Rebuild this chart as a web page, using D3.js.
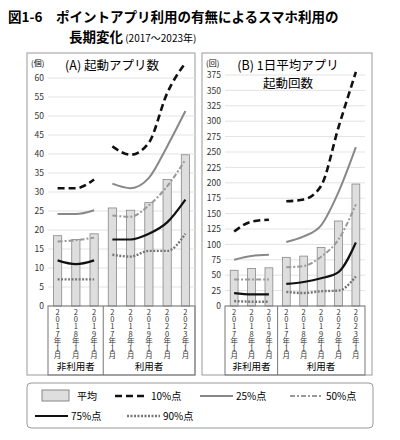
<!DOCTYPE html>
<html><head><meta charset="utf-8">
<script src="https://cdn.jsdelivr.net/npm/d3@7"></script>
<style>body{margin:0;background:#fff;font-family:"Noto Sans CJK JP",sans-serif;}</style>
</head><body><div id="root"></div>
<script>
const periods = ['2017年1月', '2018年1月', '2019年1月', '2017年1月', '2018年1月', '2019年1月', '2020年1月', '2023年1月'];
const groups = [{name: '非利用者', from: 0, to: 2}, {name: '利用者', from: 3, to: 7}];

const meanA = [18.5, 17.5, 19, 25.8, 25.2, 27.2, 33.3, 39.8];
const p10A = [31, 31, 33.3, 42, 39.8, 43, 56, 64];
const p25A = [24.2, 24.2, 25.2, 32.2, 31, 33.7, 42, 51.3];
const p50A = [17, 17.3, 18, 23.8, 23.5, 26.5, 31.5, 38.5];
const p75A = [12, 11, 12, 17.5, 17.5, 19, 22, 28];
const p90A = [7, 7, 7, 13.5, 13, 14.5, 14.5, 19];

const meanB = [58, 61, 62, 79, 81, 95, 138, 198];
const p10B = [121, 137, 140, 170, 173, 195, 290, 380];
const p25B = [75, 81, 83, 104, 113, 131, 185, 258];
const p50B = [43, 43, 43, 63, 65, 80, 108, 165];
const p75B = [21, 19, 19, 36, 39, 45, 55, 103];
const p90B = [8, 7, 7, 23, 21, 24, 25, 48];

const ticksA = d3.range(0, 61, 5);
const ticksB = d3.range(0, 376, 25);

const styles = {
  p10: {stroke: '#111', width: 2.6, dash: '7,4'},
  p25: {stroke: '#888', width: 2, dash: null},
  p50: {stroke: '#999', width: 2, dash: '5,2,2,2'},
  p75: {stroke: '#111', width: 2.2, dash: null},
  p90: {stroke: '#777', width: 2.4, dash: '2,1.5'}
};

const svg = d3.select('#root').append('svg').attr('width', 400).attr('height', 440);

svg.append('text').attr('x', 8).attr('y', 22).attr('font-size', 13.5).attr('font-weight', 'bold')
  .text('図1-6　ポイントアプリ利用の有無によるスマホ利用の');
const t2 = svg.append('text').attr('x', 69).attr('y', 42).attr('font-size', 13.5).attr('font-weight', 'bold');
t2.append('tspan').text('長期変化');
t2.append('tspan').attr('font-size', 10).attr('font-weight', 'normal').text(' (2017～2023年)');

function panel(opt) {
  const g = svg.append('g');
  g.append('rect').attr('x', opt.box[0]).attr('y', 53).attr('width', opt.box[1] - opt.box[0]).attr('height', 322)
    .attr('fill', 'none').attr('stroke', '#999');
  const x = d3.scaleBand().domain(d3.range(8)).range([opt.plot[0], opt.plot[1]]).paddingInner(0.55).paddingOuter(0.3);
  const y = d3.scaleLinear().domain([0, opt.max]).range([306, opt.top]);

  g.selectAll('.grid').data(opt.ticks).enter().append('line')
    .attr('x1', opt.plot[0]).attr('x2', opt.plot[1]).attr('y1', d => y(d)).attr('y2', d => y(d))
    .attr('stroke', '#e3e3e3');
  const ax = g.append('g').attr('transform', `translate(${opt.plot[0]},0)`)
    .call(d3.axisLeft(y).tickValues(opt.ticks).tickSize(0).tickPadding(4));
  ax.select('.domain').remove();
  ax.selectAll('text').attr('font-size', 8.5).attr('fill', '#333').attr('font-family', '"Noto Sans CJK JP"');
  g.append('text').attr('x', opt.box[0] + 4).attr('y', 66).attr('font-size', 8).text(opt.unit);
  opt.title.forEach((t, i) => g.append('text').attr('x', opt.titleX).attr('y', 70 + i * 18)
    .attr('text-anchor', 'middle').attr('font-size', 12.5).text(t));

  g.selectAll('.bar').data(opt.mean).enter().append('rect')
    .attr('x', (d, i) => x(i)).attr('width', x.bandwidth())
    .attr('y', d => y(d)).attr('height', d => 306 - y(d))
    .attr('fill', '#dedede').attr('stroke', '#888').attr('stroke-width', 0.8);

  const line = d3.line().x((d, i) => x(d.i) + x.bandwidth() / 2).y(d => y(d.v)).curve(d3.curveMonotoneX);
  opt.series.forEach(([key, vals]) => {
    const s = styles[key];
    groups.forEach(gr => {
      const pts = d3.range(gr.from, gr.to + 1).map(i => ({i, v: vals[i]}));
      g.append('path').attr('d', line(pts)).attr('fill', 'none').attr('stroke', s.stroke)
        .attr('stroke-width', s.width).attr('stroke-dasharray', s.dash);
    });
  });

  // category area
  g.append('rect').attr('x', opt.plot[0]).attr('y', 306).attr('width', opt.plot[1] - opt.plot[0]).attr('height', 69)
    .attr('fill', 'none').attr('stroke', '#777');
  const divX = (x(2) + x.bandwidth() + x(3)) / 2;
  g.append('line').attr('x1', divX).attr('x2', divX).attr('y1', 306).attr('y2', 375).attr('stroke', '#777');
  periods.forEach((p, i) => {
    const tx = g.append('text').attr('font-size', 7.5).attr('text-anchor', 'middle').attr('fill', '#333');
    p.split('').forEach((c, k) => tx.append('tspan').attr('x', x(i) + x.bandwidth() / 2).attr('y', 315 + k * 7.2).text(c));
  });
  groups.forEach(gr => {
    const cx = (x(gr.from) + x(gr.to) + x.bandwidth()) / 2;
    g.append('text').attr('x', cx).attr('y', 370).attr('text-anchor', 'middle').attr('font-size', 9.5).text(gr.name);
  });
}

panel({box: [27, 195], plot: [48, 195], max: 60, top: 78, ticks: ticksA, unit: '(個)',
  title: ['(A) 起動アプリ数'], titleX: 112, mean: meanA,
  series: [['p90', p90A], ['p75', p75A], ['p50', p50A], ['p25', p25A], ['p10', p10A]]});
panel({box: [202, 372], plot: [225, 365], max: 375, top: 75, ticks: ticksB, unit: '(回)',
  title: ['(B) 1日平均アプリ', '起動回数'], titleX: 288, mean: meanB,
  series: [['p90', p90B], ['p75', p75B], ['p50', p50B], ['p25', p25B], ['p10', p10B]]});

// legend
const lg = svg.append('g');
lg.append('rect').attr('x', 27).attr('y', 383).attr('width', 346).attr('height', 45).attr('rx', 4)
  .attr('fill', 'none').attr('stroke', '#999');
lg.append('rect').attr('x', 42).attr('y', 390).attr('width', 27).attr('height', 11).attr('fill', '#dedede').attr('stroke', '#888');
lg.append('text').attr('x', 77).attr('y', 400).attr('font-size', 10).text('平均');
const items = [['p10', 115, 400, '10%点'], ['p25', 200, 400, '25%点'], ['p50', 290, 400, '50%点'],
  ['p75', 35, 420, '75%点'], ['p90', 127, 420, '90%点']];
items.forEach(([k, lx, ly, label]) => {
  const s = styles[k];
  lg.append('line').attr('x1', lx).attr('x2', lx + 33).attr('y1', ly - 4).attr('y2', ly - 4)
    .attr('stroke', s.stroke).attr('stroke-width', s.width).attr('stroke-dasharray', s.dash);
  lg.append('text').attr('x', lx + 36).attr('y', ly).attr('font-size', 10).text(label);
});
</script></body></html>
